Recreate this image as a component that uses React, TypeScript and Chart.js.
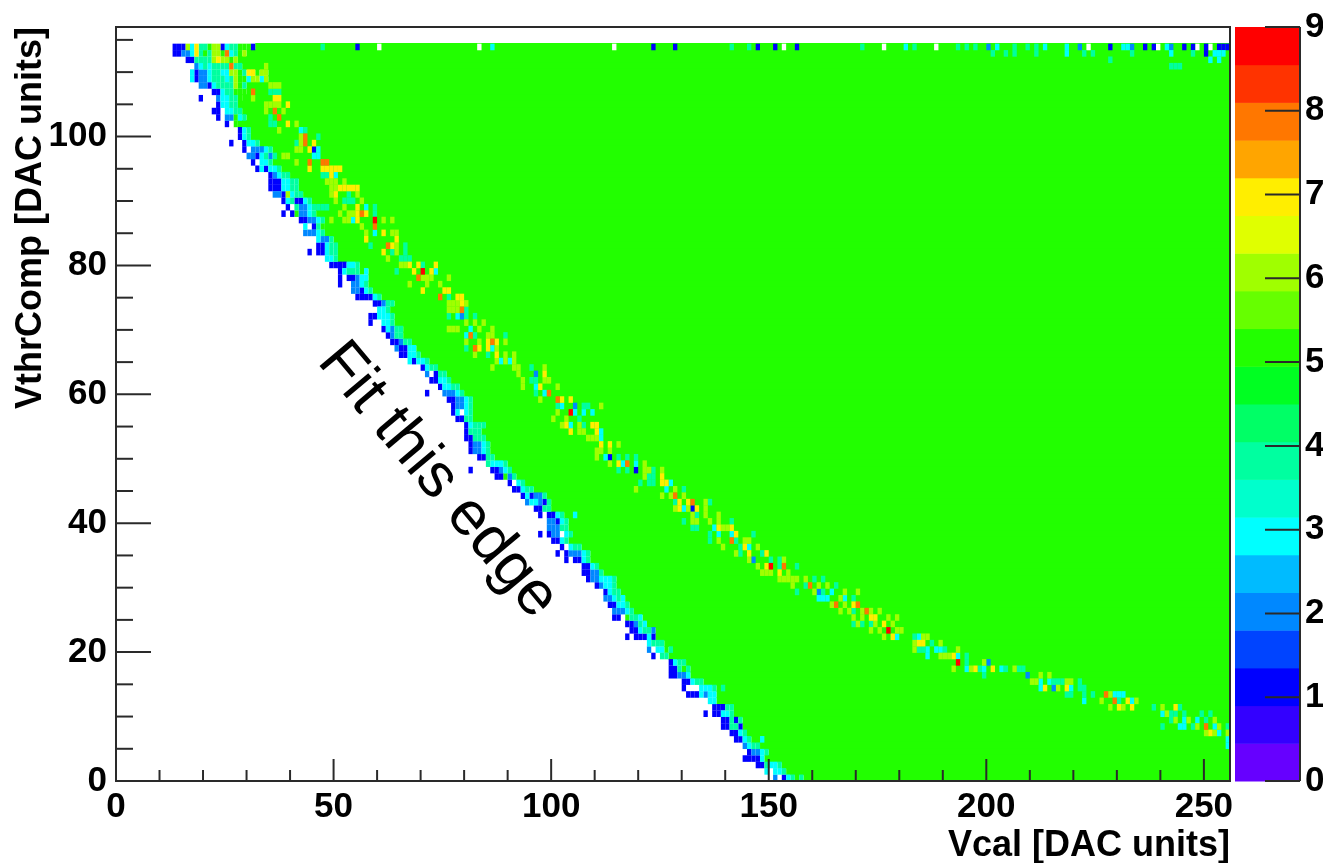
import React, { useEffect, useRef } from "react";
import { Chart, registerables } from "chart.js";

Chart.register(...registerables);

const xLabel = "Vcal [DAC units]";
const yLabel = "VthrComp [DAC units]";
const noteText = "Fit this edge";

const levelColors: Record<string, string> = {
  "0": "#ffffff", "1": "#0000ff", "2": "#0088ff", "3": "#00ffff", "4": "#00ffa0",
  "5": "#22ff00", "6": "#a0ff00", "7": "#ffee00", "8": "#ff7700", "9": "#ff0000",
};
const paletteBands = [
  "#6600ff", "#3300ff", "#0000ff", "#0044ff", "#0088ff", "#00bbff", "#00ffff", "#00ffcc", "#00ffa0", "#00ff66",
  "#00ff22", "#22ff00", "#66ff00", "#a0ff00", "#e0ff00", "#ffee00", "#ffa500", "#ff7700", "#ff3300", "#ff0000",
];
const paletteTicks = [0, 1, 2, 3, 4, 5, 6, 7, 8, 9];
const rowSpan = 114.4 / 115;
const colCount = 256;

// [row, first column, hit counts of the cells along the edge]; the row is full (5) after them
const edgeRows: [number, number, string][] = [
  [114, 13, "1116374456613445551"], [113, 13, "11223745466583456"], [112, 16, "114444676656"],
  [111, 18, "23434444844"], [110, 17, "312234433665477566"], [109, 17, "312234443465536636"],
  [108, 19, "22134444654"], [107, 22, "11344555"], [106, 23, "233445"], [105, 23, "13344"],
  [104, 22, "1103344"], [103, 23, "1022534"], [102, 25, "105"], [101, 28, "134"], [100, 28, "134"],
  [99, 29, "1334"], [98, 29, "1022234"], [97, 30, "2213424"], [96, 31, "10334"], [95, 32, "131334"],
  [94, 35, "12344"], [93, 35, "1113344"], [92, 35, "1113344"], [91, 36, "2216344"], [90, 38, "1341134"],
  [89, 39, "1042234"], [88, 38, "10152234"], [87, 42, "112234"], [86, 43, "30145"], [85, 43, "22234"],
  [84, 46, "3224"], [83, 46, "11344"], [82, 46, "11344"], [81, 48, "334"], [80, 49, "1111334"],
  [79, 51, "1344453"], [78, 51, "1011233"], [77, 51, "1002234"], [76, 54, "22134"], [75, 55, "111134"],
  [74, 59, "11244"], [73, 60, "334"], [72, 58, "113334"], [71, 58, "100334"], [70, 61, "13244"],
  [69, 62, "1244"], [68, 63, "11244"], [67, 64, "21133"], [66, 65, "11334"], [65, 67, "31334"],
  [64, 70, "1344"], [63, 71, "20144"], [62, 72, "11334"], [61, 74, "13344"], [60, 75, "22234"],
  [59, 76, "112234"], [58, 77, "12234"], [57, 77, "13034"], [56, 78, "1144"], [55, 80, "13444"],
  [54, 80, "1444"], [53, 80, "11444"], [52, 81, "12234"], [51, 81, "12234"], [50, 83, "1144"],
  [49, 85, "43334"], [48, 86, "11234"], [47, 87, "11524"], [46, 90, "1034"], [45, 91, "11344"],
  [44, 93, "131224"], [43, 94, "233214"], [42, 96, "1144"], [41, 97, "101134"], [40, 99, "22134"],
  [39, 99, "22244"], [38, 99, "122034"], [37, 100, "1134"], [36, 102, "10344"], [35, 103, "122234"],
  [34, 103, "101134"], [33, 107, "1134"], [32, 107, "11224"], [31, 108, "1223334"], [30, 110, "12334"],
  [29, 112, "1344"], [28, 112, "22343"], [27, 113, "11334"], [26, 114, "22234"], [25, 114, "1105443"],
  [24, 117, "11243"], [23, 118, "113442"], [22, 119, "11131"], [21, 122, "3444"], [20, 122, "203354"],
  [19, 125, "44"], [18, 127, "1344"], [17, 127, "11454"], [16, 127, "11223"], [15, 130, "11344"],
  [14, 130, "10003334"], [13, 131, "1113233"], [12, 136, "33"], [11, 137, "11144"], [10, 137, "11334"],
  [9, 139, "11414"], [8, 139, "11441"], [7, 141, "1134"], [6, 142, "1134"], [5, 144, "2344"],
  [4, 145, "12234"], [3, 144, "11113"], [2, 147, "114334"], [1, 149, "30334"], [0, 151, "2013454"],
];

// isolated hits left of the edge
const strayRows: [number, string][] = [
  [106, "19:1"], [99, "26:1"], [82, "44:1"], [60, "71:1"], [48, "81:1"], [38, "97:1"], [35, "101:1"],
  [22, "117:1"], [19, "123:1"], [10, "135:1"],
];

// [row, "column:hits ..."] for the cells of the top row and of the ridge running through the plateau
const ridgeRows: [number, string][] = [
  [114, "47:4 55:1 60:0 83:0 86:3 114:0 123:1 128:1 141:4 145:4 147:1 151:1 153:0 156:1 171:4 176:0 181:3 183:4 188:0 193:4 195:4 197:4 200:2 202:3 206:4 209:4 211:4 213:3 218:3 221:2 223:0 228:1 231:3 232:3 233:2 236:1 238:1 239:0 241:3 242:2 245:1 247:1 248:0 250:1 251:0 253:1 254:1 255:1"],
  [113, "201:4 204:4 206:4 211:4 218:3 222:4 224:4 233:4 242:3 247:4 250:1 252:3 253:3 254:3"],
  [112, "228:4 251:3 253:3"],
  [111, "34:6 242:4 243:4 244:4"],
  [108, "35:6 36:6 37:6"],
  [107, "31:8 35:4 36:4 37:4"],
  [106, "31:6 36:7 37:7"],
  [105, "34:6 35:6 36:6 37:6 39:7"],
  [104, "34:6 36:8 38:6"],
  [103, "37:8 35:4"],
  [102, "39:7 41:6 35:4 36:4"],
  [101, "37:6 42:3 43:4"],
  [100, "43:8 42:6 46:4"],
  [99, "43:8 41:4 42:6 45:7"],
  [98, "41:6 42:6 44:7 45:1 46:3"],
  [97, "38:6 39:6 45:3 46:3"],
  [96, "41:6 44:8 47:8 48:8"],
  [95, "44:7 47:7 48:7 49:7 50:7 51:7"],
  [94, "47:4 48:4 49:7 50:3"],
  [93, "48:6 49:6 50:6 52:6"],
  [92, "49:6 50:6 51:7 52:7 53:7 54:7 55:7"],
  [91, "49:6 50:7 53:4 55:6"],
  [90, "50:6 52:4 53:4 54:4 56:6"],
  [89, "46:4 47:4 48:4 52:6 55:7 57:3 59:4"],
  [88, "51:6 53:6 54:6 55:7 56:8 57:7 59:4"],
  [87, "49:6 52:6 53:6 54:3 55:7 59:9 61:6 63:6"],
  [86, "56:6 59:8"],
  [85, "57:6 59:3 61:7 63:6 64:6"],
  [84, "57:7 64:7"],
  [83, "58:4 62:8 63:7 64:6 66:4"],
  [82, "61:7 63:4 64:6 66:4"],
  [81, "62:6 65:4 66:4 67:4"],
  [80, "65:6 66:6 67:7 69:7 70:4 73:7"],
  [79, "64:4 68:7 70:9 72:7 73:3"],
  [78, "69:8 70:6 71:6 72:6 76:6"],
  [77, "67:6 71:6 74:6"],
  [76, "70:7 75:7 76:7"],
  [75, "74:8 76:4 78:7 79:7"],
  [74, "76:6 77:6 78:6 79:7 80:6"],
  [73, "76:6 77:6 78:6 79:8 80:4"],
  [72, "76:4 78:3 79:2 80:4 82:4"],
  [71, "80:6 82:6 84:6"],
  [70, "76:6 77:6 78:6 81:3 83:6 86:6"],
  [69, "80:3 81:8 82:4 85:6 86:6 89:4"],
  [68, "80:6 83:6 85:7 86:8 87:7 89:6"],
  [67, "80:4 82:8 83:7 85:7 86:3 87:6"],
  [66, "82:6 85:4 87:7 89:6 91:6"],
  [65, "87:6 88:3 89:6 90:3 91:6"],
  [64, "86:6 91:6 92:6 95:4 98:6"],
  [63, "92:6 96:2 98:7"],
  [62, "93:6 95:4 96:4 98:6 99:6"],
  [61, "93:6 96:3 97:7 101:6"],
  [60, "96:4 98:3 99:8"],
  [59, "97:6 101:8 102:7 104:7"],
  [58, "101:4 102:3 105:2 107:4 108:4 111:6"],
  [57, "101:6 104:9 105:3 107:3 109:3"],
  [56, "100:6 103:6 106:4"],
  [55, "102:6 103:7 104:3 106:6 107:4 109:7 110:7"],
  [54, "104:7 106:6 107:6 110:7 111:3"],
  [53, "108:6 109:6 110:6 111:3"],
  [52, "111:7 113:7 115:6"],
  [51, "110:6 111:6 113:6"],
  [50, "110:6 112:3 113:1 115:4 117:4 119:4"],
  [49, "113:6 115:7 116:3 117:8 119:3 121:6"],
  [48, "115:4 117:4 119:1 121:6 122:6 123:4 125:6"],
  [47, "121:6 122:4 123:4 125:7"],
  [46, "120:4 122:4 123:4 125:7 126:7 127:3"],
  [45, "119:6 126:3 128:6 130:4"],
  [44, "125:6 127:6 128:8 130:6"],
  [43, "128:4 129:7 131:7 132:8 135:6 136:4"],
  [42, "128:6 129:7 130:3 131:6 132:1 133:7 135:6"],
  [41, "105:3 132:6 133:4 135:6 138:6"],
  [40, "130:4 132:6 133:6 136:6 138:6 141:4"],
  [39, "132:4 133:4 137:3 138:7 139:6 140:6 141:7"],
  [38, "136:4 138:3 141:3 142:7 146:4"],
  [37, "136:4 138:6 141:8 142:4 144:6 145:6"],
  [36, "139:6 143:4 144:7 145:3 147:6"],
  [35, "142:6 143:4 145:7 148:4 149:7"],
  [34, "145:6 146:2 150:4 152:4 153:6"],
  [33, "147:6 149:7 150:9 152:4 153:8 156:4"],
  [32, "148:6 149:6 150:6 152:7 154:6"],
  [31, "152:6 153:6 154:6 155:6 156:6 158:6 160:4 162:4"],
  [30, "155:6 158:4 159:8 161:6 163:6 165:4"],
  [29, "156:4 160:6 161:2 162:4 164:3 167:6 170:6"],
  [28, "161:3 162:3 163:3 166:6 167:3 169:4"],
  [27, "164:6 165:8 167:6 169:7 170:8"],
  [26, "166:6 168:6 169:4 171:6 172:8 173:6 175:6"],
  [25, "169:6 171:6 173:7 174:7 177:6 179:6"],
  [24, "169:4 170:6 171:4 173:4 174:6 176:7 178:6"],
  [23, "173:6 175:6 177:9 179:6 180:6"],
  [22, "176:6 178:7 179:3 183:4 184:3 185:6 186:6"],
  [21, "183:6 184:7 185:7 187:4 189:6"],
  [20, "183:6 184:4 185:4 186:3 188:3 189:3 190:4 193:6"],
  [19, "186:3 189:6 190:6 191:6 192:7 193:3 195:4"],
  [18, "193:9 195:4 199:6 200:2"],
  [17, "192:6 195:3 196:6 197:7 198:4 199:3 201:7 203:3 204:4 206:6 207:4 208:4"],
  [16, "199:4 209:2 212:6 214:6"],
  [15, "210:6 211:6 212:3 214:3 215:4 216:4 217:4 218:6 219:6 221:4"],
  [14, "139:4 212:3 213:7 215:2 216:6 218:7 219:3 221:4 222:4"],
  [13, "218:4 219:4 222:4 224:4 227:8 228:6 229:3 230:3 231:3"],
  [12, "222:3 226:6 229:8 230:4 232:7 233:3 234:6"],
  [11, "228:6 230:7 231:6 233:7 238:4 240:6 243:7 244:4"],
  [10, "240:3 241:6 242:4 243:4 245:4 249:4 251:4"],
  [9, "242:4 243:6 245:3 246:6 248:3 250:4 252:6"],
  [8, "240:4 244:3 245:3 247:4 248:6 250:8 252:3 253:6 255:4"],
  [7, "250:6 251:7 252:6 253:3 255:6"],
  [6, "148:3 255:3"],
  [5, "255:3"],
];

type Bar = { x: [number, number]; y: number };

function buildDatasets() {
  const rowY = (r: number) => (r + 0.5) * rowSpan;
  const byLevel: Record<string, Bar[]> = {};
  const add = (level: string, col: number, row: number, len = 1) => {
    (byLevel[level] = byLevel[level] || []).push({ x: [col, col + len], y: rowY(row) });
  };
  const full: Bar[] = [];
  edgeRows.forEach(([row, start, levels]) => {
    full.push({ x: [start + levels.length, colCount], y: rowY(row) });
    levels.split("").forEach((lv, i) => add(lv, start + i, row));
  });
  [...strayRows, ...ridgeRows].forEach(([row, cells]) => {
    cells.split(" ").forEach((cell) => {
      const [col, lv] = cell.split(":");
      add(lv, Number(col), row);
    });
  });
  const base = { grouped: false, barThickness: 6.6, borderWidth: 0, borderSkipped: false, inflateAmount: 0 };
  const datasets: any[] = [];
  // the first dataset is painted last, so the plateau goes at the end of the list
  ["9", "8", "7", "6", "4", "3", "2", "1", "0", "5"].forEach((lv) => {
    if (byLevel[lv]) datasets.push({ ...base, label: lv, data: byLevel[lv], backgroundColor: levelColors[lv] });
  });
  datasets.push({ ...base, barThickness: 7.8, label: "plateau", data: full, backgroundColor: levelColors["5"] });
  return datasets;
}

const ink = "#2a2a2a";

const rootStyle: any = {
  id: "rootStyle",
  afterDatasetsDraw(chart: any) {
    const { ctx, chartArea: a, scales } = chart;
    const sx = scales.x, sy = scales.y, sz = scales.z;
    ctx.save();
    // palette
    const barL = a.right + 5, barR = a.right + 70;
    const bandH = 9 / paletteBands.length;
    paletteBands.forEach((c, i) => {
      const y0 = sz.getPixelForValue(i * bandH), y1 = sz.getPixelForValue((i + 1) * bandH);
      ctx.fillStyle = c;
      ctx.fillRect(barL, y1, barR - barL, y0 - y1 + 0.5);
    });
    ctx.strokeStyle = ink;
    ctx.lineWidth = 2;
    const seg = (x0: number, y0: number, x1: number, y1: number) => {
      ctx.beginPath(); ctx.moveTo(x0, y0); ctx.lineTo(x1, y1); ctx.stroke();
    };
    paletteTicks.forEach((v) => {
      const p = sz.getPixelForValue(v);
      seg(barR - 35, p, barR, p);
    });
    seg(barR, a.top, barR, a.bottom);
    // axis ticks, inward
    for (let v = 0; v <= 250; v += 10) {
      const p = sx.getPixelForValue(v);
      seg(p, a.bottom, p, a.bottom - (v % 50 === 0 ? 22 : 11));
    }
    for (let v = 0; v <= 115; v += 5) {
      const p = sy.getPixelForValue(v);
      seg(a.left, p, a.left + (v % 20 === 0 ? 35 : 17), p);
    }
    ctx.strokeRect(a.left, a.top, a.right - a.left, a.bottom - a.top);
    // note
    ctx.fillStyle = "#000000";
    ctx.font = '62px "Liberation Sans"';
    ctx.textBaseline = "alphabetic";
    ctx.textAlign = "left";
    ctx.translate(sx.getPixelForValue(46), sy.getPixelForValue(65));
    ctx.rotate((50 * Math.PI) / 180);
    ctx.fillText(noteText, 0, 0);
    ctx.restore();
  },
};

const noPad = (s: any) => { s.paddingTop = 0; s.paddingBottom = 0; s.paddingLeft = 0; s.paddingRight = 0; };

export default function App() {
  const ref = useRef<HTMLCanvasElement>(null);
  useEffect(() => {
    const labelFont = { family: '"Liberation Sans"', weight: "bold" as const, size: 35 };
    const chart = new Chart(ref.current!, {
      type: "bar",
      data: { datasets: buildDatasets() },
      plugins: [rootStyle],
      options: {
        indexAxis: "y",
        animation: false,
        responsive: false,
        devicePixelRatio: 1,
        parsing: { xAxisKey: "x", yAxisKey: "y" },
        layout: { autoPadding: false, padding: { top: 27, left: 0, right: 0, bottom: 0 } },
        plugins: { legend: { display: false }, tooltip: { enabled: false }, title: { display: false } },
        scales: {
          x: {
            type: "linear", min: 0, max: colCount, position: "bottom", offset: false,
            grid: { display: false, drawTicks: false }, border: { display: false },
            ticks: { stepSize: 50, includeBounds: false, padding: 5, color: "#000", font: labelFont, autoSkip: false, maxRotation: 0 },
            title: { display: true, text: xLabel, align: "end", color: "#000", font: { ...labelFont, size: 36 }, padding: { top: 0, bottom: -5 } },
            afterFit: (s: any) => { s.height = 82; noPad(s); },
          },
          y: {
            type: "linear", min: 0, max: 117, position: "left", offset: false,
            grid: { display: false, drawTicks: false }, border: { display: false },
            ticks: { stepSize: 20, includeBounds: false, padding: 9, color: "#000", font: labelFont, autoSkip: false },
            title: { display: true, text: yLabel, align: "end", color: "#000", font: { ...labelFont, size: 36 }, padding: { top: 9, bottom: 0 } },
            afterFit: (s: any) => { s.width = 116; noPad(s); },
          },
          z: {
            type: "linear", min: 0, max: 9, position: "right", offset: false,
            grid: { display: false, drawTicks: false }, border: { display: false },
            ticks: { stepSize: 1, padding: 75, color: "#000", font: labelFont, autoSkip: false },
            afterFit: (s: any) => { s.width = 93; noPad(s); },
          },
        },
      } as any,
    });
    return () => chart.destroy();
  }, []);
  return (
    <canvas
      ref={ref}
      width={1323}
      height={863}
      style={{ position: "fixed", left: 0, top: 0, display: "block", width: 1323, height: 863, filter: "blur(0.5px)" }}
    />
  );
}
